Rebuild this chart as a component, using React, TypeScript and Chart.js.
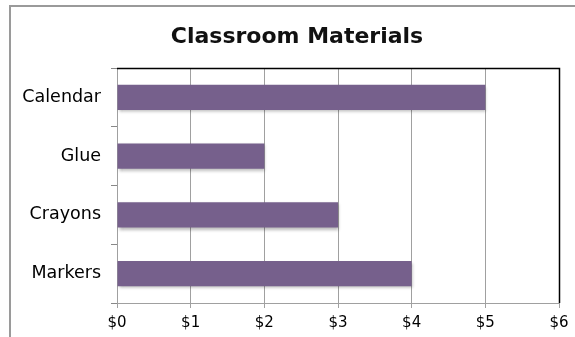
import React, { useEffect, useRef } from "react";
import { Chart, registerables } from "chart.js";

Chart.register(...registerables);

const title = "Classroom Materials";
const categories = ["Calendar", "Glue", "Crayons", "Markers"];
const values = [5, 2, 3, 4];
const xTickMin = 0;
const xTickMax = 6;
const barColor = "#76608C";

const frame = {
  id: "frame",
  afterDraw(chart: any) {
    const { ctx, chartArea } = chart;
    ctx.save();
    // outer border
    ctx.strokeStyle = "#9a9a9a";
    ctx.lineWidth = 2;
    ctx.strokeRect(10, 6, 600, 360);
    // black top and right plot border
    ctx.strokeStyle = "#000";
    ctx.lineWidth = 1.5;
    ctx.beginPath();
    ctx.moveTo(Math.round(chartArea.left), Math.round(chartArea.top) + 0.5);
    ctx.lineTo(Math.round(chartArea.right) + 0.5, Math.round(chartArea.top) + 0.5);
    ctx.lineTo(Math.round(chartArea.right) + 0.5, Math.round(chartArea.bottom));
    ctx.stroke();
    // title
    ctx.fillStyle = "#111";
    ctx.font = "bold 22px 'DejaVu Sans'";
    ctx.textAlign = "center";
    ctx.textBaseline = "middle";
    ctx.fillText(title, 297, 37);
    ctx.restore();
  },
};

const shadow = {
  id: "shadow",
  beforeDatasetsDraw(chart: any) {
    const ctx = chart.ctx;
    ctx.save();
    ctx.shadowColor = "rgba(0,0,0,0.28)";
    ctx.shadowBlur = 3;
    ctx.shadowOffsetX = 1;
    ctx.shadowOffsetY = 2;
  },
  afterDatasetsDraw(chart: any) {
    chart.ctx.restore();
  },
};

export default function App() {
  const ref = useRef<HTMLCanvasElement>(null);
  useEffect(() => {
    const chart = new Chart(ref.current!, {
      type: "bar",
      data: {
        labels: categories,
        datasets: [
          {
            data: values,
            backgroundColor: barColor,
            borderWidth: 0,
            categoryPercentage: 1,
            barPercentage: 0.43,
          },
        ],
      },
      options: {
        indexAxis: "y",
        responsive: false,
        animation: false,
        devicePixelRatio: 1,
        layout: { padding: { left: 0, right: 16, top: 68, bottom: 0 } },
        plugins: {
          legend: { display: false },
          tooltip: { enabled: false },
          title: { display: false },
        },
        scales: {
          x: {
            min: xTickMin,
            max: xTickMax,
            afterFit: (s: any) => {
              s.height = 34;
            },
            ticks: {
              stepSize: 1,
              padding: 6,
              color: "#000",
              font: { family: "DejaVu Sans", size: 15 },
              callback: (v: any) => "$" + v,
            },
            grid: { color: "#a0a0a0", tickLength: 5, lineWidth: 1 },
            border: { color: "#a0a0a0" },
          },
          y: {
            afterFit: (s: any) => {
              s.width = 117;
            },
            ticks: {
              padding: 10,
              color: "#000",
              font: { family: "DejaVu Sans", size: 17.5 },
            },
            grid: {
              drawOnChartArea: false,
              offset: true,
              tickLength: 6,
              color: "#888",
            },
            border: { color: "#a0a0a0" },
          },
        },
      },
      plugins: [shadow, frame],
    });
    return () => chart.destroy();
  }, []);
  return (
    <div style={{ position: "fixed", left: 0, top: 0, width: 575, height: 337, background: "#fff" }}>
      <canvas ref={ref} width={575} height={337} />
    </div>
  );
}
